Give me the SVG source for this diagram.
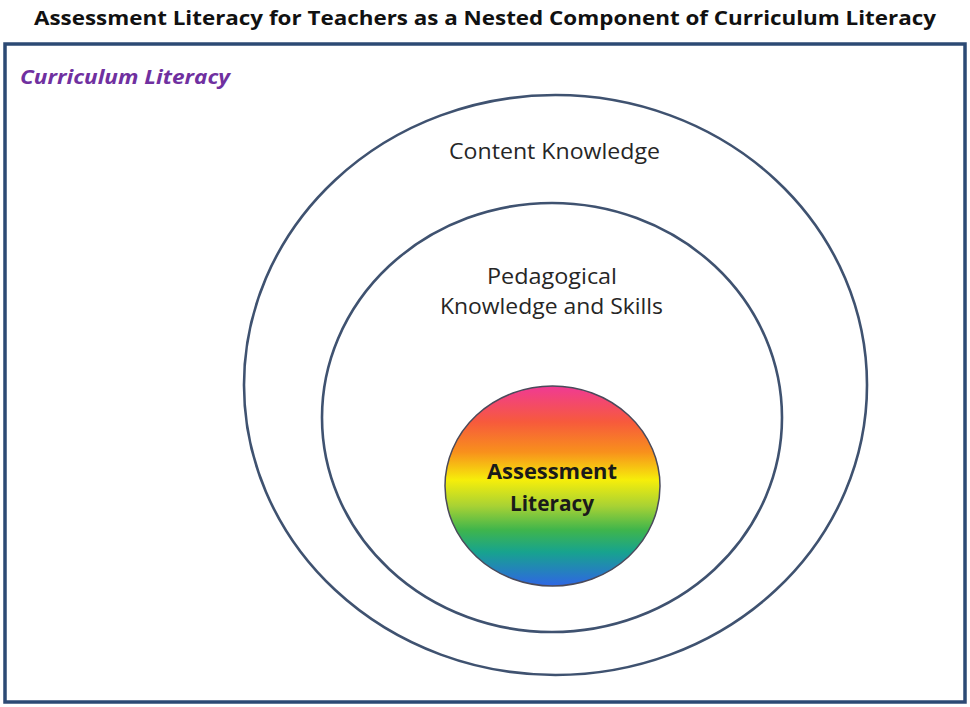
<svg xmlns="http://www.w3.org/2000/svg" width="970" height="707" viewBox="0 0 970 707">
<style>
.ring{fill:none;stroke:#3f5270;stroke-width:2.6}
.lbl{font-family:"Open Sans","Liberation Sans",sans-serif;font-size:22px;fill:#262626;text-anchor:middle}
.core{font-family:"Open Sans","Liberation Sans",sans-serif;font-size:21px;font-weight:bold;fill:#1a1a1a;text-anchor:middle}
</style>
<defs>
<linearGradient id="rainbow" x1="0" y1="0" x2="0" y2="1">
<stop offset="0" stop-color="#f03a94"/>
<stop offset="0.18" stop-color="#f75a3c"/>
<stop offset="0.33" stop-color="#f8901c"/>
<stop offset="0.47" stop-color="#f6ee0a"/>
<stop offset="0.6" stop-color="#a8d234"/>
<stop offset="0.72" stop-color="#3fb54c"/>
<stop offset="0.83" stop-color="#17a38e"/>
<stop offset="1" stop-color="#2f66e4"/>
</linearGradient>
</defs>
<rect width="970" height="707" fill="#ffffff"/>
<text x="485" y="25" font-family="'Liberation Sans Narrow','Open Sans','Liberation Sans',sans-serif" font-size="20" font-weight="bold" fill="#111" text-anchor="middle" textLength="902" lengthAdjust="spacingAndGlyphs">Assessment Literacy for Teachers as a Nested Component of Curriculum Literacy</text>
<g id="curriculum-literacy">
<rect x="5" y="44" width="960" height="658" fill="#ffffff" stroke="#2c4a74" stroke-width="3.5"/>
<text x="20" y="84" font-family="'Open Sans','Liberation Sans',sans-serif" font-size="20" font-weight="bold" font-style="italic" fill="#7030a0" textLength="210" lengthAdjust="spacingAndGlyphs">Curriculum Literacy</text>
</g>
<g id="content-knowledge">
<ellipse class="ring" cx="555.5" cy="385" rx="311.5" ry="290"/>
<text class="lbl" x="554.5" y="159" textLength="211" lengthAdjust="spacingAndGlyphs">Content Knowledge</text>
</g>
<g id="pedagogical-knowledge">
<ellipse class="ring" cx="552" cy="417.5" rx="230" ry="214.5"/>
<text class="lbl" x="552" y="284" textLength="130" lengthAdjust="spacingAndGlyphs">Pedagogical</text>
<text class="lbl" x="551.5" y="314" textLength="223" lengthAdjust="spacingAndGlyphs">Knowledge and Skills</text>
</g>
<g id="assessment-literacy">
<ellipse cx="552.5" cy="486" rx="107.5" ry="100" fill="url(#rainbow)" stroke="#4a4a5a" stroke-width="1.5"/>
<text class="core" x="552" y="479" textLength="130" lengthAdjust="spacingAndGlyphs">Assessment</text>
<text class="core" x="552" y="511" textLength="84" lengthAdjust="spacingAndGlyphs">Literacy</text>
</g>
<g id="connectors"/>
</svg>
